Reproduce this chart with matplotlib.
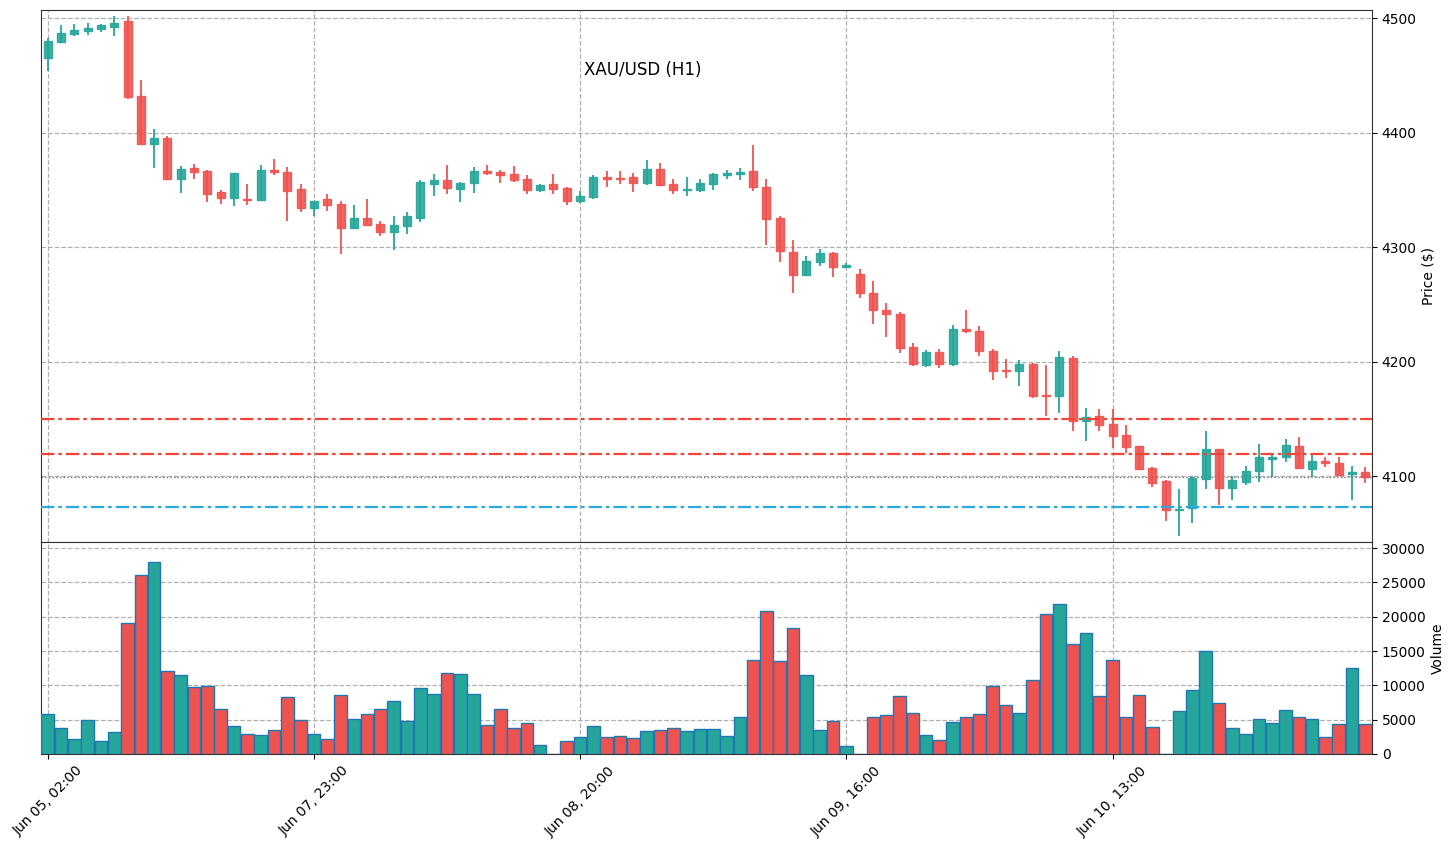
import matplotlib
matplotlib.use("Agg")
import numpy as np
import matplotlib.pyplot as plt

# hourly XAU/USD candles
opens = [4465.3, 4479.3, 4486.3, 4488.9, 4490.7, 4492.4, 4497.4, 4431.8, 4390.1, 4395.0,
         4359.5, 4369.4, 4366.8, 4347.8, 4342.9, 4342.3, 4341.1, 4367.2, 4365.5, 4350.7,
         4334.5, 4342.0, 4337.7, 4317.1, 4325.5, 4320.3, 4313.6, 4318.8, 4325.8, 4355.4,
         4358.6, 4351.0, 4356.2, 4366.4, 4365.5, 4363.8, 4359.4, 4350.1, 4355.1, 4351.6,
         4340.6, 4344.1, 4361.2, 4360.3, 4361.2, 4356.2, 4368.1, 4355.1, 4350.1, 4350.1,
         4355.4, 4363.2, 4364.1, 4366.1, 4352.8, 4325.1, 4295.9, 4275.5, 4286.9, 4294.5,
         4282.5, 4276.1, 4260.3, 4245.5, 4242.0, 4213.1, 4196.8, 4208.7, 4197.7, 4228.9,
         4227.1, 4209.6, 4192.4, 4191.9, 4197.7, 4170.6, 4170.1, 4202.9, 4148.5, 4152.9,
         4145.1, 4135.5, 4125.9, 4106.7, 4095.3, 4070.1, 4071.8, 4097.7, 4123.3, 4089.8,
         4095.1, 4104.7, 4115.1, 4116.3, 4125.9, 4105.8, 4112.8, 4111.0, 4101.5, 4103.2]
highs = [4483.0, 4493.9, 4495.3, 4496.2, 4494.8, 4501.7, 4502.3, 4446.4, 4403.5, 4397.1,
         4370.6, 4372.3, 4367.0, 4349.6, 4365.0, 4354.8, 4371.4, 4377.4, 4369.6, 4355.1,
         4340.3, 4346.1, 4340.3, 4336.5, 4342.0, 4322.9, 4327.0, 4330.4, 4358.3, 4364.3,
         4371.6, 4357.1, 4369.6, 4371.6, 4367.0, 4370.7, 4362.6, 4355.4, 4363.8, 4352.8,
         4349.0, 4362.6, 4366.1, 4366.1, 4364.6, 4375.9, 4373.3, 4359.1, 4361.2, 4359.1,
         4365.2, 4367.8, 4368.7, 4389.0, 4359.8, 4326.8, 4305.8, 4292.4, 4298.5, 4295.6,
         4286.3, 4281.0, 4270.6, 4251.3, 4242.9, 4216.6, 4210.5, 4211.1, 4232.1, 4245.5,
         4231.2, 4211.1, 4202.6, 4201.7, 4199.1, 4197.4, 4209.6, 4204.7, 4159.9, 4159.0,
         4158.4, 4144.2, 4126.7, 4107.6, 4096.2, 4088.4, 4100.3, 4139.0, 4123.3, 4100.0,
         4108.4, 4127.9, 4119.2, 4132.3, 4133.7, 4118.0, 4116.3, 4116.9, 4108.4, 4107.6]
lows = [4453.9, 4478.4, 4484.5, 4485.7, 4488.3, 4484.8, 4429.4, 4389.2, 4369.4, 4358.6,
        4347.2, 4359.5, 4339.4, 4337.6, 4335.9, 4336.7, 4340.5, 4363.2, 4323.2, 4331.0,
        4327.2, 4331.9, 4293.9, 4317.1, 4319.7, 4309.3, 4297.4, 4311.3, 4322.0, 4344.9,
        4346.1, 4339.1, 4347.0, 4362.6, 4356.2, 4357.1, 4346.7, 4347.8, 4346.1, 4336.5,
        4338.6, 4342.3, 4352.8, 4355.4, 4348.4, 4354.5, 4353.3, 4346.1, 4344.3, 4347.8,
        4349.6, 4359.7, 4358.8, 4349.0, 4301.7, 4287.2, 4260.1, 4274.6, 4283.4, 4274.1,
        4281.6, 4255.7, 4232.7, 4221.3, 4207.3, 4196.5, 4195.3, 4194.5, 4196.2, 4224.8,
        4204.7, 4184.0, 4186.0, 4179.1, 4168.3, 4152.9, 4155.5, 4139.8, 4130.2, 4139.0,
        4124.1, 4120.3, 4105.2, 4090.7, 4060.5, 4047.7, 4058.7, 4088.4, 4074.4, 4078.8,
        4091.9, 4094.5, 4098.8, 4112.5, 4106.7, 4098.8, 4107.6, 4100.9, 4078.8, 4093.6]
closes = [4479.9, 4487.5, 4489.5, 4491.8, 4493.9, 4496.2, 4431.2, 4390.1, 4395.0, 4359.5,
          4368.5, 4365.6, 4346.4, 4342.9, 4365.0, 4341.1, 4367.8, 4365.5, 4349.3, 4334.5,
          4340.3, 4337.1, 4317.1, 4325.5, 4319.7, 4312.8, 4319.4, 4327.2, 4356.8, 4358.6,
          4351.9, 4355.9, 4366.4, 4364.9, 4363.2, 4358.8, 4350.1, 4354.2, 4351.0, 4340.6,
          4344.6, 4361.2, 4359.4, 4359.7, 4356.2, 4368.1, 4354.5, 4350.1, 4350.7, 4355.9,
          4363.8, 4364.6, 4365.5, 4352.8, 4324.5, 4296.5, 4275.5, 4287.5, 4294.5, 4282.5,
          4284.5, 4259.8, 4244.9, 4241.4, 4211.7, 4197.7, 4208.7, 4197.7, 4228.9, 4226.5,
          4209.0, 4191.5, 4191.9, 4197.7, 4170.1, 4170.1, 4203.8, 4147.7, 4152.0, 4144.8,
          4135.2, 4125.6, 4106.4, 4094.2, 4070.1, 4070.9, 4098.3, 4123.3, 4089.8, 4096.2,
          4104.4, 4116.3, 4116.3, 4127.0, 4106.7, 4112.8, 4111.0, 4100.9, 4103.2, 4098.8]
volumes = [5776, 3738, 2136, 4903, 1845, 3155, 19028, 26163, 28056, 12135,
           11456, 9708, 9902, 6504, 4029, 2864, 2718, 3446, 8252, 4903,
           2864, 2136, 8543, 5048, 5776, 6504, 7669, 4806, 9562, 8689,
           11747, 11601, 8689, 4175, 6504, 3738, 4466, 1262, 0, 1845,
           2427, 4029, 2427, 2573, 2281, 3301, 3446, 3738, 3301, 3592,
           3592, 2573, 5339, 13640, 20775, 13494, 18300, 11456, 3446, 4757,
           1116, 0, 5339, 5631, 8398, 5922, 2718, 1990, 4611, 5339,
           5776, 9854, 7087, 5922, 10727, 20338, 21794, 15970, 17571, 8398,
           13640, 5339, 8543, 3883, 0, 6213, 9271, 14950, 7378, 3738,
           2864, 5048, 4466, 6359, 5339, 5048, 2427, 4320, 12475, 4320]

tick_idx = [0, 20, 40, 60, 80]
tick_labels = ["Jun 05, 02:00", "Jun 07, 23:00", "Jun 08, 20:00", "Jun 09, 16:00", "Jun 10, 13:00"]

resistance = [4150, 4119.5]
support = 4073

up_col = '#26a69a'
down_col = '#ef5350'

o = np.array(opens)
h = np.array(highs)
l = np.array(lows)
c = np.array(closes)
x = np.arange(len(o))
up = c >= o
cols = np.where(up, up_col, down_col)

fig = plt.figure(figsize=(14.55, 8.49), dpi=100)
ax = fig.add_axes([0.0282, 0.3616, 0.9148, 0.6264])
axv = fig.add_axes([0.0282, 0.1119, 0.9148, 0.2497], sharex=ax)

# wicks + bodies
ax.vlines(x, l, h, colors=cols, linewidth=1.3, zorder=2)
body_bot = np.minimum(o, c)
body_h = np.maximum(np.abs(c - o), 0.6)
ax.bar(x, body_h, bottom=body_bot, width=0.6, color=cols, edgecolor=cols,
       linewidth=1, alpha=0.9, zorder=3)

for r in resistance:
    ax.axhline(r, color='#f44336', linewidth=1.6, dashes=(6, 1.8, 1.6, 1.8), zorder=4)
ax.axhline(support, color='#29abe2', linewidth=1.6, dashes=(6, 1.8, 1.6, 1.8), zorder=4)
ax.axhline(c[-1], color='#777777', linewidth=1, linestyle=':', zorder=1)

ax.set_ylim(4042.4, 4507)
ax.set_xlim(-0.5, 99.5)
ax.yaxis.tick_right()
ax.yaxis.set_label_position('right')
ax.set_ylabel('Price ($)')
ax.set_yticks([4100, 4200, 4300, 4400, 4500])
ax.grid(True, linestyle='--', color='#b0b0b0', linewidth=0.9)
ax.tick_params(axis='x', labelbottom=False, length=0)
ax.text(0.452, 0.887, 'XAU/USD (H1)', transform=ax.transAxes, ha='center', va='center', fontsize=12)

axv.bar(x, volumes, width=0.95, color=cols, edgecolor='#1f77b4', linewidth=1, zorder=3)
axv.set_ylim(0, 30900)
axv.yaxis.tick_right()
axv.yaxis.set_label_position('right')
axv.set_ylabel('Volume')
axv.set_yticks(range(0, 30001, 5000))
axv.grid(True, linestyle='--', color='#b0b0b0', linewidth=0.9)
axv.set_xticks(tick_idx)
axv.set_xticklabels(tick_labels, rotation=45)

for a in (ax, axv):
    a.set_axisbelow(True)
    for s in a.spines.values():
        s.set_color('#333333')

fig.savefig('out.png', dpi=100)
